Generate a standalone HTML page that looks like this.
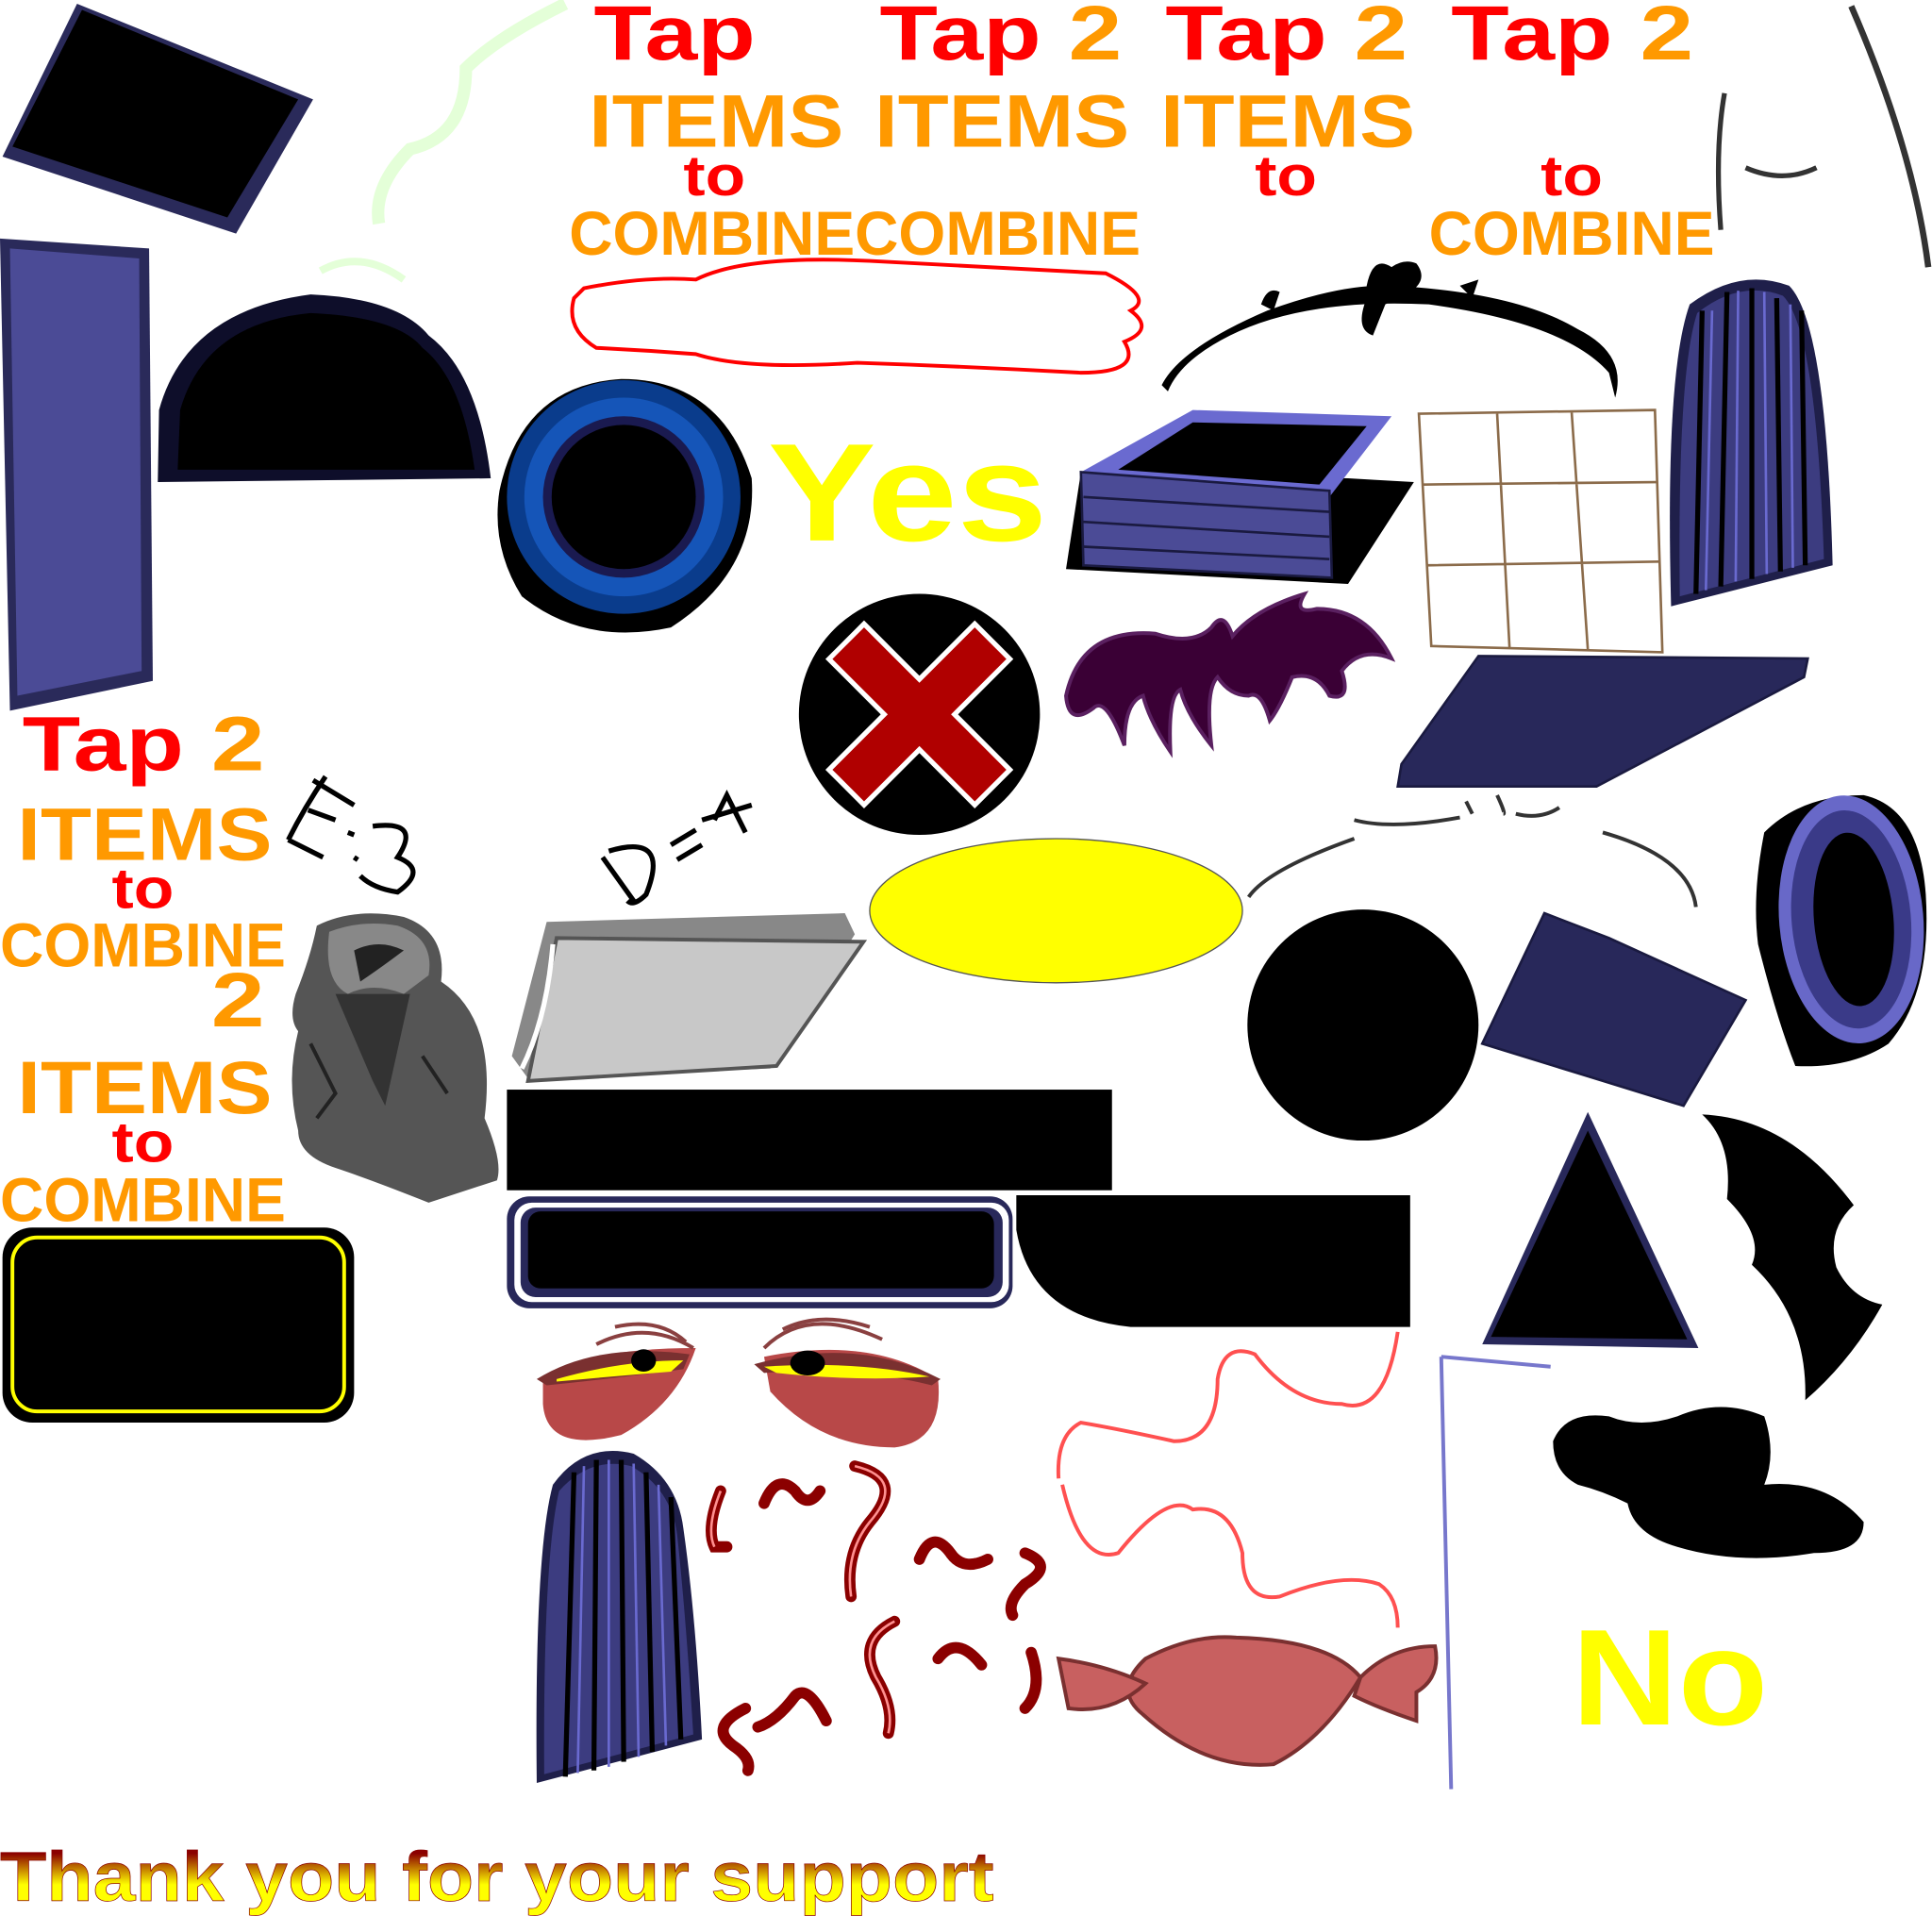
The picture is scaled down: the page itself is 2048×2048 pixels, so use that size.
<!DOCTYPE html>
<html><head><meta charset="utf-8"><style>
html,body{margin:0;padding:0;background:#fff;}
svg{display:block;}
text{font-family:"Liberation Sans",Arial,sans-serif;font-weight:bold;}
</style></head><body>
<svg width="2048" height="2048" viewBox="0 0 1555 1555" xmlns="http://www.w3.org/2000/svg">
<defs>
<linearGradient id="ty" x1="0" y1="0" x2="0" y2="1">
<stop offset="0" stop-color="#8b0000"/><stop offset="0.2" stop-color="#8b0000"/><stop offset="0.6" stop-color="#ffff00"/><stop offset="1" stop-color="#ffff00"/>
</linearGradient>
</defs>

<polygon points="62,3 252,80 190,188 2,126" fill="#2a2a5a"/>
<polygon points="66,8 240,80 183,175 10,118" fill="#000"/>
<path d="M455,3 Q400,30 375,55 Q375,110 330,120 Q300,150 305,180" stroke="#e4ffd8" stroke-width="10" fill="none"/>
<path d="M258,218 Q290,200 325,225" stroke="#e4ffd8" stroke-width="6" fill="none"/>

<polygon points="0,192 120,200 123,548 8,572" fill="#2a2a5a"/>
<polygon points="8,200 112,208 114,540 14,560" fill="#4b4b96"/>

<path d="M127,388 L128,330 Q150,250 250,237 Q320,240 345,270 Q385,300 395,385 Z" fill="#0e0e2a"/>
<path d="M143,378 L145,330 Q165,260 250,252 Q320,255 340,280 Q372,305 382,378 Z" fill="#000"/>

<path d="M500,305 Q580,305 605,385 Q610,460 540,505 Q470,520 420,480 Q395,440 402,395 Q420,310 500,305Z" fill="#000"/>
<circle cx="502" cy="400" r="94" fill="#0a3c8c"/>
<circle cx="502" cy="400" r="80" fill="#1555b8"/>
<circle cx="502" cy="400" r="65" fill="#1a1a50"/>
<circle cx="502" cy="400" r="58" fill="#000"/>

<text x="618" y="435" font-size="112" fill="#ffff00" textLength="225" lengthAdjust="spacingAndGlyphs">Yes</text>

<g font-size="62">
<text x="478" y="48" fill="#ff0000" textLength="130" lengthAdjust="spacingAndGlyphs">Tap</text>
<text x="708" y="48" fill="#ff0000" textLength="130" lengthAdjust="spacingAndGlyphs">Tap</text>
<text x="860" y="48" fill="#ff9900" textLength="43" lengthAdjust="spacingAndGlyphs">2</text>
<text x="938" y="48" fill="#ff0000" textLength="130" lengthAdjust="spacingAndGlyphs">Tap</text>
<text x="1090" y="48" fill="#ff9900" textLength="43" lengthAdjust="spacingAndGlyphs">2</text>
<text x="1168" y="48" fill="#ff0000" textLength="130" lengthAdjust="spacingAndGlyphs">Tap</text>
<text x="1320" y="48" fill="#ff9900" textLength="43" lengthAdjust="spacingAndGlyphs">2</text>
</g>
<g font-size="60" fill="#ff9900">
<text x="474" y="118" textLength="205" lengthAdjust="spacingAndGlyphs">ITEMS</text>
<text x="704" y="118" textLength="205" lengthAdjust="spacingAndGlyphs">ITEMS</text>
<text x="934" y="118" textLength="205" lengthAdjust="spacingAndGlyphs">ITEMS</text>
</g>
<g font-size="46" fill="#ff0000">
<text x="550" y="157" textLength="50" lengthAdjust="spacingAndGlyphs">to</text>
<text x="1010" y="157" textLength="50" lengthAdjust="spacingAndGlyphs">to</text>
<text x="1240" y="157" textLength="50" lengthAdjust="spacingAndGlyphs">to</text>
</g>
<g font-size="50" fill="#ff9900">
<text x="458" y="205" textLength="230" lengthAdjust="spacingAndGlyphs">COMBINE</text>
<text x="688" y="205" textLength="230" lengthAdjust="spacingAndGlyphs">COMBINE</text>
<text x="1150" y="205" textLength="230" lengthAdjust="spacingAndGlyphs">COMBINE</text>
</g>

<path d="M470,232 Q520,222 560,225 Q600,205 700,210 Q800,215 890,220 Q930,240 910,250 Q930,265 905,275 Q920,300 870,300 Q780,295 690,292 Q600,298 560,285 Q520,282 480,280 Q455,265 462,240 Z" fill="none" stroke="#ff0000" stroke-width="3"/>

<path d="M935,310 Q950,280 1020,250 Q1080,228 1120,230 Q1220,235 1270,265 Q1310,285 1300,320 L1295,300 Q1260,260 1150,245 Q1050,240 990,270 Q950,290 940,315 Z" fill="#000"/>
<path d="M1100,230 Q1105,205 1120,215 Q1130,208 1140,212 Q1150,225 1135,235 L1115,245 L1105,270 Q1090,265 1100,240 Z" fill="#000"/>
<path d="M1015,245 Q1020,230 1030,235 L1025,250Z M1175,230 L1190,225 L1185,240Z" fill="#000"/>

<polygon points="858,458 1085,470 1138,388 1085,385 870,380" fill="#000"/>
<polygon points="870,380 960,330 1120,335 1070,400" fill="#6a6ad0"/>
<polygon points="900,378 960,340 1100,343 1062,390" fill="#000"/>
<polygon points="870,380 1070,395 1072,465 872,455" fill="#4b4b96" stroke="#1a1a40" stroke-width="2"/>
<path d="M872,400 L1070,412 M872,420 L1070,432 M872,440 L1070,450" stroke="#1a1a40" stroke-width="2"/>

<g stroke="#8b6b4a" stroke-width="2" fill="#fff">
<polygon points="1142,333 1332,330 1338,525 1152,520"/>
<path d="M1145,390 L1333,388 M1148,455 L1336,452 M1205,333 L1215,522 M1265,332 L1278,523" fill="none"/>
</g>

<path d="M1345,488 Q1340,300 1360,245 Q1400,215 1440,230 Q1470,260 1475,455 Z" fill="#1f1f4a"/>
<path d="M1352,480 Q1350,300 1366,252 Q1400,225 1435,238 Q1462,265 1468,450 Z" fill="#3c3c80"/>
<g stroke="#000" stroke-width="4"><path d="M1370,250 L1365,478 M1390,235 L1385,472 M1410,232 L1410,466 M1430,240 L1433,460 M1450,250 L1453,455"/></g>
<g stroke="#6a6ad0" stroke-width="2"><path d="M1378,250 L1373,475 M1399,234 L1397,468 M1420,235 L1422,462 M1441,245 L1443,457"/></g>

<path d="M1490,5 Q1540,120 1552,215" stroke="#333" stroke-width="5" fill="none"/>
<path d="M1388,75 Q1380,120 1385,185" stroke="#333" stroke-width="4" fill="none"/>
<path d="M1405,135 Q1435,148 1462,135" stroke="#333" stroke-width="4" fill="none"/>

<circle cx="740" cy="575" r="97" fill="#000"/>
<g transform="rotate(45 740 575)">
<rect x="718" y="490" width="44" height="170" fill="#fff"/>
<rect x="655" y="553" width="170" height="44" fill="#fff"/>
<rect x="722" y="494" width="36" height="162" fill="#b00000"/>
<rect x="659" y="557" width="162" height="36" fill="#b00000"/>
</g>

<path d="M858,560 Q870,505 930,510 Q960,520 975,505 Q985,490 992,512 Q1010,490 1050,478 Q1040,495 1060,490 Q1100,490 1120,530 Q1095,520 1080,540 Q1088,565 1070,560 Q1060,540 1040,545 Q1030,570 1022,580 Q1015,555 1005,560 Q990,560 980,545 Q970,555 975,600 Q955,575 950,555 Q940,560 942,605 Q925,580 920,560 Q905,565 905,600 Q890,560 880,570 Q860,585 858,560 Z" fill="#3a0035" stroke="#5a2060" stroke-width="3"/>

<polygon points="1190,528 1455,530 1452,545 1285,633 1125,633 1128,615" fill="#28285a" stroke="#1a1a40" stroke-width="2"/>

<path d="M1090,660 Q1120,668 1175,658 M1180,645 L1185,655 M1205,640 Q1212,655 1210,655 M1220,655 Q1240,660 1255,650" stroke="#333" stroke-width="3" fill="none"/>
<path d="M1005,722 Q1020,700 1090,675" stroke="#333" stroke-width="3" fill="none"/>
<path d="M1290,670 Q1360,690 1365,730" stroke="#333" stroke-width="3" fill="none"/>

<text x="18" y="620" font-size="62" fill="#ff0000" textLength="130" lengthAdjust="spacingAndGlyphs">Tap</text>
<text x="170" y="620" font-size="62" fill="#ff9900" textLength="43" lengthAdjust="spacingAndGlyphs">2</text>
<text x="14" y="692" font-size="60" fill="#ff9900" textLength="205" lengthAdjust="spacingAndGlyphs">ITEMS</text>
<text x="90" y="731" font-size="46" fill="#ff0000" textLength="50" lengthAdjust="spacingAndGlyphs">to</text>
<text x="0" y="778" font-size="50" fill="#ff9900" textLength="230" lengthAdjust="spacingAndGlyphs">COMBINE</text>
<text x="170" y="826" font-size="62" fill="#ff9900" textLength="43" lengthAdjust="spacingAndGlyphs">2</text>
<text x="14" y="896" font-size="60" fill="#ff9900" textLength="205" lengthAdjust="spacingAndGlyphs">ITEMS</text>
<text x="90" y="935" font-size="46" fill="#ff0000" textLength="50" lengthAdjust="spacingAndGlyphs">to</text>
<text x="0" y="983" font-size="50" fill="#ff9900" textLength="230" lengthAdjust="spacingAndGlyphs">COMBINE</text>

<g stroke="#000" stroke-width="4" fill="none">
<path d="M262,625 Q245,650 232,676 M252,628 L285,648 M248,652 L270,660 M232,676 L260,690"/>
<path d="M280,670 L285,672 M285,690 L288,692 M300,665 Q340,660 320,690 Q345,700 320,718 Q300,715 290,705"/>
<path d="M485,690 L510,725 M490,685 Q540,670 520,720 Q510,730 505,725 M540,680 L560,668 M545,692 L565,680 M575,660 L585,640 L600,670 M565,660 L605,648"/>
</g>

<path d="M255,745 Q285,730 325,738 Q360,750 355,790 Q400,820 390,900 Q405,935 400,950 L345,968 Q300,950 270,940 Q240,930 240,910 Q230,870 240,830 Q232,820 238,800 Q250,770 255,745 Z" fill="#555"/>
<path d="M265,750 Q290,740 320,745 Q350,755 345,785 L325,800 Q300,790 280,800 Q260,790 265,750 Z" fill="#888"/>
<path d="M285,765 Q305,755 325,765 Q305,780 290,790 Z" fill="#222"/>
<path d="M270,800 L300,870 L310,890 L330,800 Z" fill="#333"/>
<path d="M250,840 L270,880 L255,900 M340,850 L360,880" stroke="#222" stroke-width="3" fill="none"/>

<polygon points="440,742 680,735 688,752 620,860 425,868 412,850" fill="#888"/>
<polygon points="448,755 695,758 625,858 425,870" fill="#c8c8c8" stroke="#555" stroke-width="3"/>
<path d="M445,760 Q440,820 420,860" stroke="#fff" stroke-width="4" fill="none"/>

<ellipse cx="850" cy="733" rx="150" ry="58" fill="#ffff00" stroke="#555" stroke-width="1"/>

<circle cx="1097" cy="825" r="93" fill="#000"/>

<polygon points="1243,735 1295,755 1405,805 1355,890 1193,840" fill="#28285a" stroke="#1a1a40" stroke-width="2"/>

<path d="M1420,670 Q1450,640 1500,640 Q1545,650 1550,720 Q1555,800 1520,840 Q1490,860 1445,858 Q1430,820 1415,760 Q1410,720 1420,670Z" fill="#000"/>
<ellipse cx="1490" cy="740" rx="58" ry="100" fill="#6868c8" transform="rotate(-5 1490 740)"/>
<ellipse cx="1490" cy="740" rx="48" ry="88" fill="#3a3a88" transform="rotate(-5 1490 740)"/>
<ellipse cx="1492" cy="740" rx="32" ry="70" fill="#000" transform="rotate(-5 1492 740)"/>

<rect x="408" y="877" width="487" height="81" fill="#000"/>
<rect x="408" y="963" width="407" height="90" rx="18" fill="#28285a"/>
<rect x="414" y="968" width="398" height="80" rx="14" fill="#fff"/>
<rect x="419" y="972" width="388" height="72" rx="12" fill="#28285a"/>
<rect x="425" y="975" width="375" height="62" rx="10" fill="#000"/>
<path d="M818,962 L1135,962 L1135,1068 L910,1068 Q830,1060 818,990 Z" fill="#000"/>

<polygon points="1278,895 1367,1085 1193,1082" fill="#28285a"/>
<polygon points="1278,910 1358,1078 1200,1076" fill="#000"/>

<path d="M1370,897 Q1440,900 1492,970 Q1470,990 1478,1020 Q1490,1045 1515,1050 Q1490,1095 1453,1127 Q1455,1060 1410,1018 Q1420,995 1390,965 Q1395,920 1370,897 Z" fill="#000"/>

<path d="M1250,1160 Q1260,1135 1295,1140 Q1320,1150 1350,1140 Q1385,1125 1420,1140 Q1430,1170 1420,1195 Q1470,1190 1500,1225 Q1500,1250 1460,1250 Q1400,1260 1350,1245 Q1315,1235 1310,1210 Q1290,1200 1270,1195 Q1250,1185 1250,1160 Z" fill="#000"/>

<path d="M1160,1092 L1168,1440 M1160,1092 L1248,1100" stroke="#7777cc" stroke-width="3" fill="none"/>

<text x="1265" y="1388" font-size="110" fill="#ffff00" textLength="158" lengthAdjust="spacingAndGlyphs">No</text>

<g>
<path d="M437,1110 Q470,1085 560,1085 Q545,1130 500,1155 Q440,1170 437,1130 Z" fill="#b84848"/>
<path d="M432,1110 Q480,1080 555,1090 L550,1102 Q490,1110 440,1115 Z" fill="#7a3030"/>
<path d="M448,1110 Q500,1095 550,1095 L540,1104 Q490,1108 448,1112 Z" fill="#ffff00"/>
<ellipse cx="518" cy="1095" rx="10" ry="9" fill="#000"/>
<path d="M480,1082 Q520,1062 558,1085 M495,1068 Q530,1060 552,1080" stroke="#8a4040" stroke-width="3" fill="none"/>
<path d="M615,1092 Q700,1075 755,1110 Q760,1160 720,1165 Q660,1165 620,1120 Z" fill="#b84848"/>
<path d="M607,1098 Q690,1075 757,1110 L750,1115 Q690,1100 615,1105 Z" fill="#7a3030"/>
<path d="M615,1100 Q690,1095 748,1108 Q690,1112 625,1105 Z" fill="#ffff00"/>
<ellipse cx="650" cy="1097" rx="14" ry="10" fill="#000"/>
<path d="M615,1085 Q650,1050 710,1078 M630,1070 Q660,1055 700,1068" stroke="#8a4040" stroke-width="3" fill="none"/>
</g>

<path d="M432,1435 Q430,1250 445,1195 Q470,1160 510,1170 Q545,1190 550,1230 Q560,1300 565,1400 Z" fill="#1f1f4a"/>
<path d="M438,1428 Q437,1255 450,1200 Q475,1172 508,1180 Q540,1198 545,1235 Q552,1300 558,1396 Z" fill="#3c3c80"/>
<g stroke="#000" stroke-width="4"><path d="M462,1185 L455,1430 M480,1175 L478,1425 M500,1175 L502,1418 M520,1185 L525,1410 M540,1205 L548,1400"/></g>
<g stroke="#6a6ad0" stroke-width="2"><path d="M470,1180 L465,1427 M490,1175 L490,1422 M510,1178 L514,1414 M530,1195 L536,1405"/></g>

<g stroke="#8b0000" stroke-width="9" fill="none" stroke-linecap="round">
<path d="M580,1200 Q568,1230 575,1245 L585,1245"/>
<path d="M615,1210 Q625,1185 640,1200 Q650,1215 660,1200"/>
<path d="M688,1180 Q730,1190 700,1225 Q680,1250 685,1285"/>
<path d="M740,1255 Q750,1230 765,1250 Q775,1265 795,1255"/>
<path d="M825,1250 Q850,1260 825,1275 Q810,1290 815,1300"/>
<path d="M720,1305 Q690,1320 705,1350 Q720,1375 715,1395"/>
<path d="M755,1335 Q770,1315 790,1340"/>
<path d="M830,1330 Q840,1360 825,1375"/>
<path d="M610,1390 Q625,1385 640,1365 Q650,1355 665,1385"/>
<path d="M600,1375 Q570,1390 590,1405 Q605,1415 602,1425"/>
</g>
<g stroke="#ff9090" stroke-width="2" fill="none">
<path d="M580,1200 Q568,1230 575,1245"/>
<path d="M688,1180 Q730,1190 700,1225 Q680,1250 685,1285"/>
<path d="M720,1305 Q690,1320 705,1350 Q720,1375 715,1395"/>
</g>

<path d="M1125,1072 Q1115,1140 1080,1130 Q1040,1130 1010,1090 Q985,1080 980,1110 Q980,1160 945,1160 Q900,1150 870,1145 Q850,1155 852,1190" stroke="#ff5050" stroke-width="3" fill="none"/>
<path d="M855,1195 Q870,1260 900,1250 Q940,1200 960,1215 Q990,1210 1000,1250 Q1000,1290 1030,1285 Q1080,1265 1110,1275 Q1125,1285 1125,1310" stroke="#ff5050" stroke-width="3" fill="none"/>

<path d="M922,1335 Q960,1315 995,1318 Q1070,1320 1095,1350 Q1065,1400 1025,1420 Q970,1425 920,1380 Q895,1360 922,1335 Z" fill="#c86060" stroke="#7a3030" stroke-width="3"/>
<path d="M852,1335 Q890,1340 922,1355 Q895,1380 860,1375 Q855,1350 852,1335 Z" fill="#c86060" stroke="#7a3030" stroke-width="3"/>
<path d="M1095,1350 Q1120,1325 1155,1325 Q1160,1350 1140,1362 L1140,1385 Q1110,1375 1090,1365 Z" fill="#c86060" stroke="#7a3030" stroke-width="3"/>

<rect x="2" y="988" width="283" height="157" rx="24" fill="#000"/>
<rect x="10" y="996" width="267" height="140" rx="20" fill="none" stroke="#ffff00" stroke-width="3"/>

<text x="0" y="1530" font-size="56" fill="url(#ty)" stroke="#8b0000" stroke-width="0.5" textLength="800" lengthAdjust="spacingAndGlyphs">Thank you for your support</text>
</svg>
</body></html>
